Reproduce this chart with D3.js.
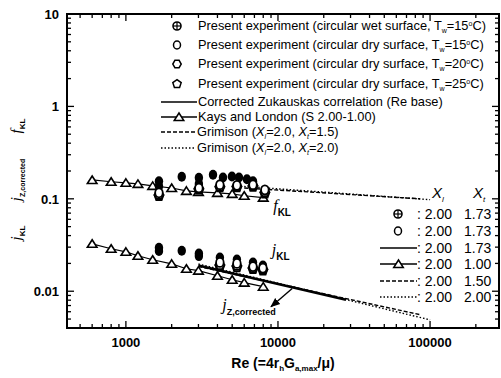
<!DOCTYPE html>
<html lang="en">
<head>
<meta charset="UTF-8">
<title>j and f factors vs Re</title>
<script src="https://d3js.org/d3.v7.min.js"></script>
<style>
  body { margin: 0; background: #fff; }
  svg { display: block; font-family: "Liberation Sans", Arial, sans-serif; }
</style>
</head>
<body>
<svg width="501" height="378"></svg>
<script>
// Kays and London (S 2.00-1.00)
const reKL = [600, 800, 1000, 1200, 1500, 2000, 2500, 3000, 4000, 5000, 6000, 8000];
const fKL = [0.160, 0.153, 0.149, 0.145, 0.138, 0.131, 0.122, 0.119, 0.116, 0.113, 0.108, 0.103];
const jKL = [0.0326, 0.0288, 0.0267, 0.0242, 0.0219, 0.0198, 0.0175, 0.0167, 0.0147, 0.0133, 0.0124, 0.0112];

// present experiment, friction factor
const reWetF = [1650, 1650, 2330, 3020, 3020, 3740, 4350, 4980, 5540, 6250, 6850];
const fWet = [0.155, 0.137, 0.173, 0.169, 0.145, 0.182, 0.170, 0.174, 0.170, 0.163, 0.155];
const reDryF = [1650, 3020, 4150, 5370, 6850, 8200];
const fDry15 = [0.116, 0.131, 0.142, 0.140, 0.142, 0.125];
const fDry20 = [0.110, 0.128, 0.135, 0.136, 0.138, 0.118];
const fDry25 = [0.106, 0.125, 0.132, 0.132, 0.134, 0.113];

// present experiment, j factor
const reWetJ = [1650, 1650, 2330, 3020, 3020, 4150, 5370, 6850, 7960];
const jWet = [0.0295, 0.0272, 0.0274, 0.0256, 0.0240, 0.0232, 0.0220, 0.0205, 0.0190];
const reDryJ = [4150, 5370, 6850, 7960];
const jDry15 = [0.0205, 0.0200, 0.0185, 0.0178];
const jDry20 = [0.0192, 0.0188, 0.0178, 0.0172];
const jDry25 = [0.0185, 0.0180, 0.0172, 0.0166];

// correlations
const reZuk = [3000, 28000];
const jZuk = [0.0190, 0.0081];
const reGrim15 = [3000, 85000];
const jGrim15 = [0.0185, 0.0056];
const reGrim20 = [3000, 100000];
const jGrim20 = [0.0197, 0.0049];
const reGrimF15 = [6000, 86000];
const fGrim15 = [0.131, 0.100];
const reGrimF20 = [6000, 100000];
const fGrim20 = [0.136, 0.098];

const xMajor = [1000, 10000, 100000];
const yMajor = [0.01, 0.1, 1, 10];

const svg = d3.select("svg");
const L = 67, R = 499, T = 14, B = 328;

const x = d3.scaleLog().domain([410, 284000]).range([L, R]);
const y = d3.scaleLog().domain([0.004, 10]).range([B, T]);

// minor ticks
const xMinor = [];
[100, 1000, 10000, 100000].forEach(d => {
  for (let k = 2; k <= 9; k++) if (d * k > 410 && d * k < 284000) xMinor.push(d * k);
});
const yMinor = [];
[0.001, 0.01, 0.1, 1].forEach(d => {
  for (let k = 2; k <= 9; k++) if (d * k > 0.004 && d * k < 10) yMinor.push(d * k);
});

const ax = svg.append("g").attr("stroke", "#000").attr("stroke-width", 1.3);
xMajor.forEach(v => {
  ax.append("line").attr("x1", x(v)).attr("x2", x(v)).attr("y1", B).attr("y2", B - 7);
  ax.append("line").attr("x1", x(v)).attr("x2", x(v)).attr("y1", T).attr("y2", T + 7);
});
xMinor.forEach(v => {
  ax.append("line").attr("x1", x(v)).attr("x2", x(v)).attr("y1", B).attr("y2", B - 4);
  ax.append("line").attr("x1", x(v)).attr("x2", x(v)).attr("y1", T).attr("y2", T + 4);
});
yMajor.forEach(v => {
  ax.append("line").attr("x1", L).attr("x2", L + 7).attr("y1", y(v)).attr("y2", y(v));
  ax.append("line").attr("x1", R).attr("x2", R - 7).attr("y1", y(v)).attr("y2", y(v));
});
yMinor.forEach(v => {
  ax.append("line").attr("x1", L).attr("x2", L + 4).attr("y1", y(v)).attr("y2", y(v));
  ax.append("line").attr("x1", R).attr("x2", R - 4).attr("y1", y(v)).attr("y2", y(v));
});

svg.append("rect").attr("x", L).attr("y", T).attr("width", R - L).attr("height", B - T)
  .attr("fill", "none").attr("stroke", "#000").attr("stroke-width", 2);

// tick labels
svg.append("g").selectAll("text").data(xMajor).join("text")
  .attr("x", d => x(d)).attr("y", 347).attr("text-anchor", "middle")
  .attr("font-size", 13).attr("font-weight", "bold").text(d => d);
svg.append("g").selectAll("text").data(yMajor).join("text")
  .attr("x", 59).attr("y", d => y(d) + 5).attr("text-anchor", "end")
  .attr("font-size", 13).attr("font-weight", "bold").text(d => d);

// axis titles
const xt = svg.append("text").attr("x", 283).attr("y", 368).attr("text-anchor", "middle")
  .attr("font-size", 14).attr("font-weight", "bold");
xt.append("tspan").text("Re (=4r");
xt.append("tspan").attr("font-size", 8).attr("dy", 3).text("h");
xt.append("tspan").attr("dy", -3).text("G");
xt.append("tspan").attr("font-size", 8).attr("dy", 3).text("a,max");
xt.append("tspan").attr("dy", -3).text("/\u03bc)");

function yLabel(cy, main, sub, subSize) {
  const t = svg.append("text")
    .attr("transform", `translate(21,${cy}) rotate(-90)`)
    .attr("text-anchor", "middle").attr("font-size", 15);
  t.append("tspan").attr("font-style", "italic").attr("font-family", "Liberation Serif, serif").text(main);
  t.append("tspan").attr("font-size", subSize).attr("font-weight", "bold").attr("dy", 4).text(sub);
}
yLabel(233, "j", "KL", 8);
yLabel(180, "j", "Z,corrected", 7);
yLabel(126, "f", "KL", 8);

// lines
const line = d3.line().x(d => x(d[0])).y(d => y(d[1]));
const pairs = (a, b) => a.map((v, i) => [v, b[i]]);

svg.append("path").attr("d", line(pairs(reKL, fKL))).attr("fill", "none").attr("stroke", "#000").attr("stroke-width", 1.2);
svg.append("path").attr("d", line(pairs(reKL, jKL))).attr("fill", "none").attr("stroke", "#000").attr("stroke-width", 1.2);

svg.append("path").attr("d", line(pairs(reGrimF15, fGrim15))).attr("fill", "none").attr("stroke", "#000")
  .attr("stroke-width", 1.4).attr("stroke-dasharray", "4,2");
svg.append("path").attr("d", line(pairs(reGrimF20, fGrim20))).attr("fill", "none").attr("stroke", "#000")
  .attr("stroke-width", 1.4).attr("stroke-dasharray", "1.5,2");
svg.append("path").attr("d", line(pairs(reGrim15, jGrim15))).attr("fill", "none").attr("stroke", "#000")
  .attr("stroke-width", 1.4).attr("stroke-dasharray", "4,2");
svg.append("path").attr("d", line(pairs(reGrim20, jGrim20))).attr("fill", "none").attr("stroke", "#000")
  .attr("stroke-width", 1.4).attr("stroke-dasharray", "1.5,2");
svg.append("path").attr("d", line(pairs(reZuk, jZuk))).attr("fill", "none").attr("stroke", "#000")
  .attr("stroke-width", 2.6);

// marker shapes
function triPath(cx, cy) {
  return `M${cx},${cy - 4}L${cx + 4.8},${cy + 3.5}L${cx - 4.8},${cy + 3.5}Z`;
}
function polyPath(cx, cy, n, r, rot) {
  const p = d3.range(n).map(i => {
    const a = rot + i * 2 * Math.PI / n;
    return [cx + r * Math.cos(a), cy + r * Math.sin(a)];
  });
  return "M" + p.join("L") + "Z";
}

// Kays and London triangles
[fKL, jKL].forEach(arr => {
  svg.append("g").selectAll("path").data(pairs(reKL, arr)).join("path")
    .attr("d", d => triPath(x(d[0]), y(d[1])))
    .attr("fill", "#fff").attr("stroke", "#000").attr("stroke-width", 1.6);
});

// experiment markers
function wet(re, vals) {
  svg.append("g").selectAll("ellipse").data(pairs(re, vals)).join("ellipse")
    .attr("cx", d => x(d[0])).attr("cy", d => y(d[1])).attr("rx", 4.2).attr("ry", 5)
    .attr("fill", "#000");
}
function dry(re, vals, shape) {
  const g = svg.append("g");
  pairs(re, vals).forEach(d => {
    const cx = x(d[0]), cy = y(d[1]);
    if (shape === "circle") {
      g.append("ellipse").attr("cx", cx).attr("cy", cy).attr("rx", 3.8).attr("ry", 4.5)
        .attr("fill", "#fff").attr("stroke", "#000").attr("stroke-width", 1.8);
    } else {
      const n = shape === "hex" ? 6 : 5;
      const rot = shape === "hex" ? 0 : -Math.PI / 2;
      g.append("path").attr("d", polyPath(cx, cy, n, 4.6, rot))
        .attr("fill", "#fff").attr("stroke", "#000").attr("stroke-width", 1.8);
    }
  });
}
wet(reWetF, fWet);
wet(reWetJ, jWet);
dry(reDryF, fDry25, "pent");
dry(reDryF, fDry20, "hex");
dry(reDryF, fDry15, "circle");
dry(reDryJ, jDry25, "pent");
dry(reDryJ, jDry20, "hex");
dry(reDryJ, jDry15, "circle");

// annotations
function annot(re, v, main, sub, subSize) {
  const t = svg.append("text").attr("x", x(re)).attr("y", y(v)).attr("font-size", 16);
  t.append("tspan").attr("font-style", "italic").attr("font-family", "Liberation Serif, serif").text(main);
  t.append("tspan").attr("font-size", subSize).attr("font-weight", "bold").attr("dy", 5).text(sub);
}
annot(9300, 0.074, "f", "KL", 10);
annot(9100, 0.0245, "j", "KL", 10);
annot(4300, 0.0062, "j", "Z,corrected", 9);

svg.append("defs").append("marker").attr("id", "ah").attr("viewBox", "0 0 10 10")
  .attr("refX", 9).attr("refY", 5).attr("markerWidth", 7).attr("markerHeight", 7)
  .attr("orient", "auto").append("path").attr("d", "M0,1L10,5L0,9Z").attr("fill", "#000");
svg.append("line").attr("x1", x(12400)).attr("y1", y(0.0107)).attr("x2", x(9000)).attr("y2", y(0.0068))
  .attr("stroke", "#000").attr("stroke-width", 1.4).attr("marker-end", "url(#ah)");

// top legend
const lg = svg.append("g").attr("font-size", 12.8);
const legRows = [26, 45, 64, 84, 102, 117, 132, 148];
const tempLabels = ["circular wet surface, T", "circular dry surface, T", "circular dry surface, T", "circular dry surface, T"];
const temps = ["15", "15", "20", "25"];
tempLabels.forEach((s, i) => {
  const t = lg.append("text").attr("x", 198).attr("y", legRows[i] + 4);
  t.append("tspan").text("Present experiment (" + s);
  t.append("tspan").attr("font-size", 7).attr("dy", 3).text("w");
  t.append("tspan").attr("dy", -3).text("=" + temps[i]);
  t.append("tspan").attr("font-size", 7).attr("dy", -4).text("o");
  t.append("tspan").attr("dy", 4).text("C)");
});
// legend symbols
function plusCircle(g, cx, cy) {
  g.append("circle").attr("cx", cx).attr("cy", cy).attr("r", 4).attr("fill", "none").attr("stroke", "#000").attr("stroke-width", 1.6);
  g.append("line").attr("x1", cx - 4).attr("x2", cx + 4).attr("y1", cy).attr("y2", cy).attr("stroke", "#000").attr("stroke-width", 1.2);
  g.append("line").attr("x1", cx).attr("x2", cx).attr("y1", cy - 4).attr("y2", cy + 4).attr("stroke", "#000").attr("stroke-width", 1.2);
}
plusCircle(lg, 177, legRows[0]);
lg.append("ellipse").attr("cx", 177).attr("cy", legRows[1]).attr("rx", 3.5).attr("ry", 4).attr("fill", "#fff").attr("stroke", "#000").attr("stroke-width", 1.5);
lg.append("path").attr("d", polyPath(177, legRows[2], 6, 4.2, 0)).attr("fill", "#fff").attr("stroke", "#000").attr("stroke-width", 1.5);
lg.append("path").attr("d", polyPath(177, legRows[3], 5, 4.4, -Math.PI / 2)).attr("fill", "#fff").attr("stroke", "#000").attr("stroke-width", 1.5);

function legLine(g, x1, x2, cy, dash, width, tri) {
  g.append("line").attr("x1", x1).attr("x2", x2).attr("y1", cy).attr("y2", cy)
    .attr("stroke", "#000").attr("stroke-width", width).attr("stroke-dasharray", dash);
  if (tri) g.append("path").attr("d", triPath((x1 + x2) / 2, cy)).attr("fill", "#fff").attr("stroke", "#000").attr("stroke-width", 1.5);
}
legLine(lg, 161, 197, legRows[4], null, 1.5, false);
legLine(lg, 161, 197, legRows[5], null, 1.3, true);
legLine(lg, 161, 196, legRows[6], "4,2", 1.3, false);
legLine(lg, 161, 196, legRows[7], "1.5,2", 1.3, false);

lg.append("text").attr("x", 198).attr("y", legRows[4] + 4).text("Corrected Zukauskas correlation (Re base)");
lg.append("text").attr("x", 198).attr("y", legRows[5] + 4).text("Kays and London (S 2.00-1.00)");
["1.5", "2.0"].forEach((v, i) => {
  const t = lg.append("text").attr("x", 197).attr("y", legRows[6 + i] + 4);
  t.append("tspan").text("Grimison (");
  t.append("tspan").attr("font-style", "italic").text("X");
  t.append("tspan").attr("font-size", 7).attr("font-style", "italic").attr("dy", 3).text("l");
  t.append("tspan").attr("dy", -3).text("=2.0, ");
  t.append("tspan").attr("font-style", "italic").text("X");
  t.append("tspan").attr("font-size", 7).attr("font-style", "italic").attr("dy", 3).text("t");
  t.append("tspan").attr("dy", -3).text("=" + v + ")");
});

// right table
const tb = svg.append("g").attr("font-size", 14);
const tbRows = [214, 231, 248, 264, 281, 297];
const xl = ["2.00", "2.00", "2.00", "2.00", "2.00", "2.00"];
const xtv = ["1.73", "1.73", "1.73", "1.00", "1.50", "2.00"];
[[432, "l"], [473, "t"]].forEach(h => {
  const t = tb.append("text").attr("x", h[0]).attr("y", 198).attr("font-size", 15).attr("font-style", "italic");
  t.append("tspan").text("X");
  t.append("tspan").attr("font-size", 8).attr("dy", 4).text(h[1]);
});
plusCircle(tb, 398, tbRows[0]);
tb.append("ellipse").attr("cx", 398).attr("cy", tbRows[1]).attr("rx", 3.5).attr("ry", 4).attr("fill", "#fff").attr("stroke", "#000").attr("stroke-width", 1.5);
legLine(tb, 380, 417, tbRows[2], null, 1.5, false);
legLine(tb, 380, 417, tbRows[3], null, 1.3, true);
legLine(tb, 380, 417, tbRows[4], "4,2", 1.3, false);
legLine(tb, 380, 417, tbRows[5], "1.5,2", 1.3, false);
tbRows.forEach((cy, i) => {
  tb.append("text").attr("x", 417).attr("y", cy + 5).text(": " + xl[i]);
  tb.append("text").attr("x", 464).attr("y", cy + 5).text(xtv[i]);
});
</script>
</body>
</html>
